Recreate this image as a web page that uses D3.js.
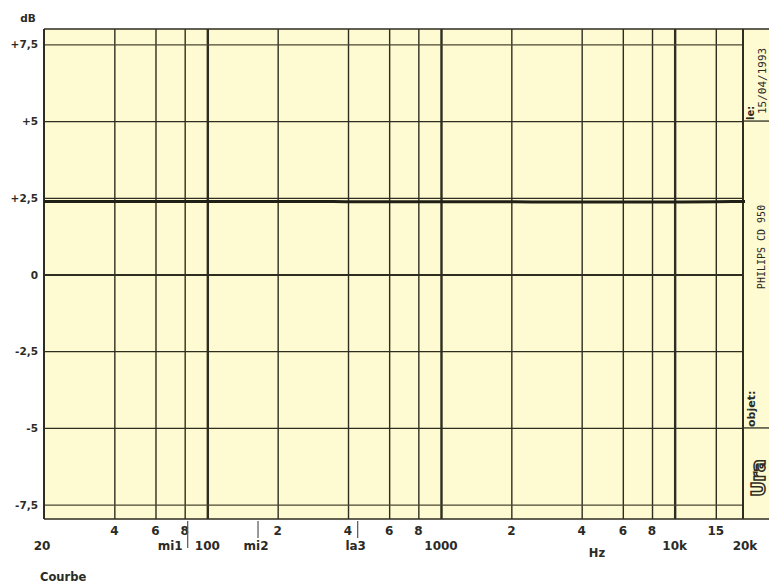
<!DOCTYPE html>
<html>
<head>
<meta charset="utf-8">
<script src="https://cdn.jsdelivr.net/npm/d3@7"></script>
<style>
  html, body { margin: 0; padding: 0; background: #ffffff; }
  svg { display: block; }
  text { font-family: "DejaVu Sans", "Liberation Sans", Arial, sans-serif; fill: #2b2b26; }
</style>
</head>
<body>
<svg id="chart" width="769" height="583"></svg>
<script>
// ---- data ----
const curveFreqs = [20, 30, 40, 60, 80, 100, 150, 200, 300, 400, 600, 800, 1000, 1500, 2000, 3000, 4000, 6000, 8000, 10000, 15000, 20000];
const curveDb    = [2.38, 2.38, 2.38, 2.38, 2.38, 2.38, 2.38, 2.38, 2.38, 2.37, 2.37, 2.37, 2.37, 2.37, 2.37, 2.36, 2.36, 2.36, 2.36, 2.36, 2.37, 2.38];

const gridFreqs   = [40, 60, 80, 100, 200, 400, 600, 800, 1000, 2000, 4000, 6000, 8000, 10000, 15000];
const decadeFreqs = [100, 1000, 10000];
const gridDb      = [-7.5, -5, -2.5, 0, 2.5, 5, 7.5];
const dbLabels    = ["-7,5", "-5", "-2,5", "0", "+2,5", "+5", "+7,5"];

const minorFreqs  = [40, 60, 80, 200, 400, 600, 800, 2000, 4000, 6000, 8000, 15000];
const minorLabels = ["4", "6", "8", "2", "4", "6", "8", "2", "4", "6", "8", "15"];
const majorFreqs  = [20, 100, 1000, 10000, 20000];
const majorLabels = ["20", "100", "1000", "10k", "20k"];

const noteFreqs   = [82.41, 164.81, 440];
const noteNames   = ["mi1", "mi2", "la3"];

const panelDate   = "15/04/1993";
const panelObject = "PHILIPS CD 950";

// ---- layout ----
const svg = d3.select("#chart");
const L = 44, R = 743, T = 29, B = 519;
const x = d3.scaleLog().domain([20, 20000]).range([44, 745]);
const y = d3.scaleLinear().domain([-8, 8]).range([520, 29]);
const ink = "#2e2d20";
const paper = "#fefad2";

// plot background
svg.append("rect").attr("x", L).attr("y", T).attr("width", R - L).attr("height", B - T).attr("fill", paper);
// side panel background
svg.append("rect").attr("x", R).attr("y", T).attr("width", 769 - R).attr("height", B - T).attr("fill", paper);

// vertical grid via axis
const gx = svg.append("g").attr("transform", `translate(0,${B})`)
  .call(d3.axisBottom(x).tickValues(gridFreqs).tickSize(-(B - T)).tickFormat(""));
gx.select(".domain").remove();
gx.selectAll(".tick line")
  .attr("stroke", ink)
  .attr("stroke-width", d => decadeFreqs.includes(d) ? 2.4 : 1.4);

// horizontal grid via axis
const gy = svg.append("g").attr("transform", `translate(${L},0)`)
  .call(d3.axisLeft(y).tickValues(gridDb).tickSize(-(R - L)).tickFormat(""));
gy.select(".domain").remove();
gy.selectAll(".tick line")
  .attr("stroke", d => Math.abs(d) === 7.5 ? "#4a4632" : ink)
  .attr("stroke-width", d => d === 0 ? 1.8 : (Math.abs(d) === 7.5 ? 1.1 : 1.3));

// frame
svg.append("line").attr("x1", L).attr("x2", 769).attr("y1", T).attr("y2", T).attr("stroke", ink).attr("stroke-width", 1.6);
svg.append("line").attr("x1", L).attr("x2", 769).attr("y1", B).attr("y2", B).attr("stroke", ink).attr("stroke-width", 1.6);
svg.append("line").attr("x1", L).attr("x2", L).attr("y1", T).attr("y2", B).attr("stroke", ink).attr("stroke-width", 2);
svg.append("line").attr("x1", R).attr("x2", R).attr("y1", T).attr("y2", B).attr("stroke", ink).attr("stroke-width", 2);
// panel dividers
[5, -5].forEach(v => {
  svg.append("line").attr("x1", R).attr("x2", 769).attr("y1", y(v)).attr("y2", y(v)).attr("stroke", ink).attr("stroke-width", 1.3);
});

// curve
const line = d3.line().x((d, i) => x(curveFreqs[i])).y(d => y(d)).curve(d3.curveMonotoneX);
svg.append("path").datum(curveDb).attr("d", line)
  .attr("fill", "none").attr("stroke", "#1f1f16").attr("stroke-width", 3);

// y labels
svg.append("g").selectAll("text").data(gridDb).join("text")
  .attr("x", 38).attr("y", d => y(d) + 4)
  .attr("text-anchor", "end").attr("font-size", 10.5).attr("font-weight", "bold")
  .text((d, i) => dbLabels[i]);
svg.append("text").attr("x", 28).attr("y", 22).attr("text-anchor", "middle")
  .attr("font-size", 10.5).attr("font-weight", "bold").text("dB");

// x minor labels
svg.append("g").selectAll("text").data(minorFreqs).join("text")
  .attr("x", d => x(d)).attr("y", 535)
  .attr("text-anchor", "middle").attr("font-size", 12).attr("font-weight", "bold")
  .text((d, i) => minorLabels[i]);
// x major labels
svg.append("g").selectAll("text").data(majorFreqs).join("text")
  .attr("x", (d, i) => x(d) + (i === 0 ? -2 : 0)).attr("y", 550)
  .attr("text-anchor", "middle").attr("font-size", 12).attr("font-weight", "bold")
  .text((d, i) => majorLabels[i]);

// note markers
const noteG = svg.append("g").selectAll("g").data(noteFreqs).join("g");
noteG.append("line")
  .attr("x1", d => x(d)).attr("x2", d => x(d)).attr("y1", 521).attr("y2", (d, i) => i === 0 ? 548 : 538)
  .attr("stroke", "#555").attr("stroke-width", 1.2);
noteG.append("text")
  .attr("x", (d, i) => i === 0 ? x(d) - 5 : x(d) - 2)
  .attr("y", 550)
  .attr("text-anchor", (d, i) => i === 0 ? "end" : "middle")
  .attr("font-size", 12).attr("font-weight", "bold")
  .text((d, i) => noteNames[i]);

svg.append("text").attr("x", 597).attr("y", 557).attr("text-anchor", "middle")
  .attr("font-size", 11.5).attr("font-weight", "bold").text("Hz");
svg.append("text").attr("x", 40).attr("y", 581)
  .attr("font-size", 11.5).attr("font-weight", "bold").text("Courbe");

// panel texts (rotated)
function vtext(px, py, str, opts) {
  const t = svg.append("text")
    .attr("transform", `translate(${px},${py}) rotate(-90)`)
    .attr("text-anchor", opts.anchor || "start")
    .attr("font-size", opts.size || 10)
    .attr("font-weight", opts.weight || "normal")
    .text(str);
  if (opts.family) t.style("font-family", opts.family);
  return t;
}
vtext(754, 120, "le:", {size: 10, weight: "bold"});
vtext(766, 114, panelDate, {size: 11, family: "'DejaVu Sans Mono', monospace"});
vtext(765, 247, panelObject, {size: 10, anchor: "middle", family: "'DejaVu Sans Mono', monospace"});
vtext(755, 427, "objet:", {size: 11, weight: "bold"});
vtext(765, 478, "Ura", {size: 19, weight: "bold", anchor: "middle"})
  .style("fill", "none").style("stroke", "#2e2d20").style("stroke-width", 1.5);
</script>
</body>
</html>
